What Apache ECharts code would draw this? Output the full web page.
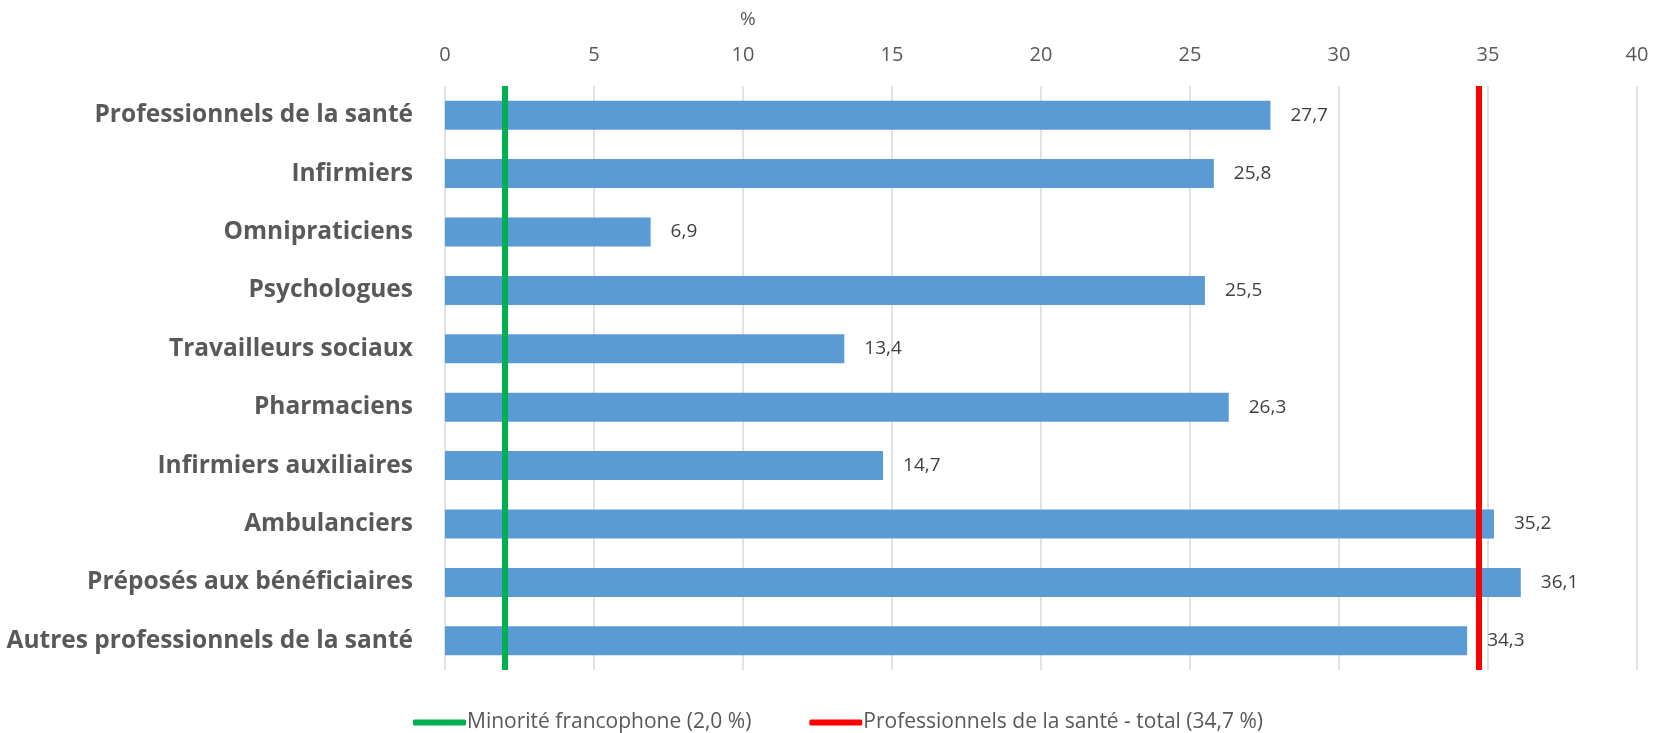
<!DOCTYPE html>
<html>
<head>
<meta charset="utf-8">
<script src="https://cdn.jsdelivr.net/npm/echarts@6/dist/echarts.min.js"></script>
<style>
  html, body { margin: 0; padding: 0; background: #fff; }
  #chart { width: 1654px; height: 733px; }
</style>
</head>
<body>
<div id="chart"></div>
<script>
  // catégories et valeurs (%)
  var categories = ['Professionnels de la santé', 'Infirmiers', 'Omnipraticiens', 'Psychologues',
    'Travailleurs sociaux', 'Pharmaciens', 'Infirmiers auxiliaires', 'Ambulanciers',
    'Préposés aux bénéficiaires', 'Autres professionnels de la santé'];
  var values = [27.7, 25.8, 6.9, 25.5, 13.4, 26.3, 14.7, 35.2, 36.1, 34.3];
  // lignes de référence
  var refNames = ['Minorité francophone (2,0 %)', 'Professionnels de la santé - total (34,7 %)'];
  var refValues = [2.0, 34.7];
  var refColors = ['#00b050', '#ff0000'];

  var fontFam = '"Open Sans", Lato, sans-serif';
  var chart = echarts.init(document.getElementById('chart'));

  var refSeries = refNames.map(function (name, i) {
    return {
      name: name,
      type: 'line',
      data: [],
      itemStyle: { color: refColors[i] },
      lineStyle: { color: refColors[i], width: 6 },
      markLine: {
        silent: true,
        symbol: 'none',
        label: { show: false },
        lineStyle: { color: refColors[i], width: 6, type: 'solid' },
        data: [{ xAxis: refValues[i] }]
      },
      z: 5
    };
  });

  var option = {
    animation: false,
    textStyle: { fontFamily: fontFam },
    title: {
      text: '%',
      left: 735,
      top: 5,
      textStyle: { fontSize: 19, fontWeight: 'normal', color: '#595959', fontFamily: fontFam }
    },
    grid: { left: 445, right: 17, top: 86, bottom: 63, outerBoundsMode: 'none' },
    legend: {
      left: 408,
      top: 707,
      icon: 'roundRect',
      itemWidth: 53,
      itemHeight: 6,
      itemGap: 58,
      data: refNames,
      textStyle: { fontSize: 21, color: '#595959', fontFamily: fontFam, padding: [0, 0, 0, -4] }
    },
    xAxis: {
      type: 'value',
      position: 'top',
      min: 0,
      max: 40,
      interval: 5,
      axisLine: { show: false },
      axisTick: { show: false },
      axisLabel: { fontSize: 20, color: '#595959', margin: 21 },
      splitLine: { lineStyle: { color: '#d9d9d9', width: 1.5 } }
    },
    yAxis: {
      type: 'category',
      inverse: true,
      data: categories,
      axisLine: { show: false },
      axisTick: { show: false },
      axisLabel: { fontSize: 24.5, fontWeight: 'bold', color: '#595959', margin: 32 }
    },
    series: [{
      type: 'bar',
      data: values,
      barWidth: 29,
      itemStyle: { color: '#5b9bd5' },
      label: {
        show: true,
        position: 'right',
        distance: 20,
        fontSize: 19,
        color: '#404040',
        formatter: function (p) { return p.value.toFixed(1).replace('.', ','); }
      }
    }].concat(refSeries)
  };

  chart.setOption(option);
  window.addEventListener('resize', function () { chart.resize(); });
</script>
</body>
</html>
